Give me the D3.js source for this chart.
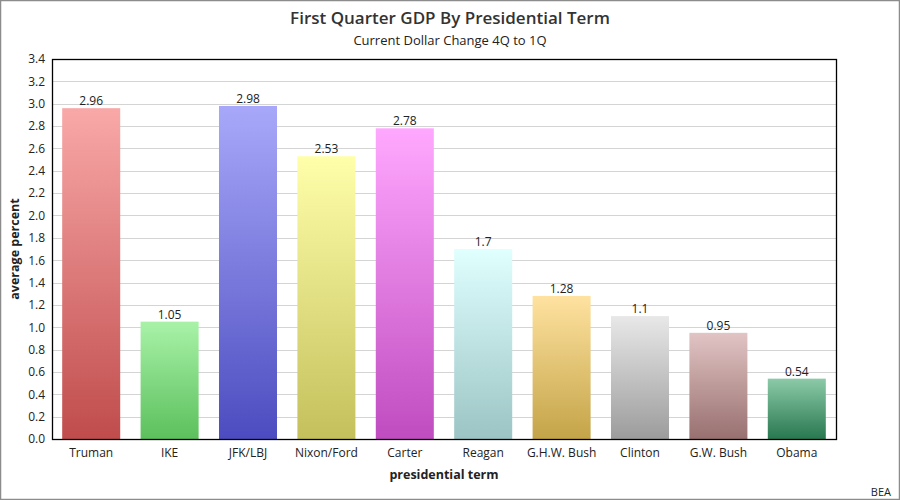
<!DOCTYPE html>
<html>
<head>
<meta charset="utf-8">
<script src="https://cdn.jsdelivr.net/npm/d3@7"></script>
<style>
  body { margin: 0; background: #fff; }
  text { font-family: "Open Sans", "Noto Sans", sans-serif; fill: #222; }
</style>
</head>
<body>
<svg id="chart" width="900" height="500"></svg>
<script>
// data
var terms = ['Truman', 'IKE', 'JFK/LBJ', 'Nixon/Ford', 'Carter', 'Reagan', 'G.H.W. Bush', 'Clinton', 'G.W. Bush', 'Obama'];
var values = [2.96, 1.05, 2.98, 2.53, 2.78, 1.7, 1.28, 1.1, 0.95, 0.54];
var labels = ['2.96', '1.05', '2.98', '2.53', '2.78', '1.7', '1.28', '1.1', '0.95', '0.54'];
var topColors = ['#f9a8a8', '#a8f2a8', '#a8a8fa', '#ffffaa', '#ffa8ff', '#e0ffff', '#ffe2a0', '#e8e8e8', '#e2c4c4', '#8ccaa8'];
var bottomColors = ['#c04c4c', '#5cc05c', '#4c4cc0', '#c4c05c', '#c04cc0', '#9cc4c4', '#c4a448', '#9c9c9c', '#987070', '#287850'];
var yTicks = d3.range(0, 3.41, 0.2);

var width = 900, height = 500;
var margin = { top: 59, right: 64, bottom: 61, left: 52 };

var svg = d3.select('#chart');

// outer border
svg.append('rect')
  .attr('x', 0.5).attr('y', 0.5)
  .attr('width', width - 1).attr('height', height - 1)
  .attr('fill', '#fff').attr('stroke', '#8c8c8c').attr('stroke-width', 1.5);

var x = d3.scaleBand()
  .domain(terms)
  .range([margin.left, width - margin.right])
  .paddingInner(0.26)
  .paddingOuter(0.13);

var y = d3.scaleLinear()
  .domain([0, 3.4])
  .range([height - margin.bottom, margin.top]);

var defs = svg.append('defs');
terms.forEach(function(t, i) {
  var g = defs.append('linearGradient')
    .attr('id', 'grad' + i)
    .attr('x1', 0).attr('y1', 0).attr('x2', 0).attr('y2', 1);
  g.append('stop').attr('offset', '0%').attr('stop-color', topColors[i]);
  g.append('stop').attr('offset', '100%').attr('stop-color', bottomColors[i]);
});

// grid
svg.append('g')
  .selectAll('line')
  .data(yTicks)
  .enter()
  .append('line')
  .attr('x1', margin.left).attr('x2', width - margin.right)
  .attr('y1', d => Math.round(y(d)) + 0.5).attr('y2', d => Math.round(y(d)) + 0.5)
  .attr('stroke', '#d4d4d4');

// y axis
var yAxis = svg.append('g')
  .attr('transform', `translate(${margin.left},0)`)
  .call(d3.axisLeft(y).tickValues(yTicks).tickFormat(d3.format('.1f')).tickSize(0).tickPadding(7));
yAxis.select('.domain').remove();
yAxis.selectAll('text').style('font-size', '12px').style('font-family', '"Open Sans", sans-serif');

// x axis
var xAxis = svg.append('g')
  .attr('transform', `translate(0,${height - margin.bottom})`)
  .call(d3.axisBottom(x).tickSize(0).tickPadding(9));
xAxis.select('.domain').remove();
xAxis.selectAll('text').style('font-size', '12px').style('font-family', '"Open Sans", sans-serif');

// bars
svg.append('g')
  .selectAll('rect')
  .data(terms)
  .enter()
  .append('rect')
  .attr('x', d => x(d))
  .attr('width', x.bandwidth())
  .attr('y', (d, i) => y(values[i]))
  .attr('height', (d, i) => y(0) - y(values[i]))
  .attr('fill', (d, i) => 'url(#grad' + i + ')');

// value labels
svg.append('g')
  .selectAll('text')
  .data(terms)
  .enter()
  .append('text')
  .attr('x', d => x(d) + x.bandwidth() / 2)
  .attr('y', (d, i) => y(values[i]) - 3)
  .attr('text-anchor', 'middle')
  .style('font-size', '12px')
  .text((d, i) => labels[i]);

// plot frame
svg.append('rect')
  .attr('x', margin.left + 0.5).attr('y', margin.top + 0.5)
  .attr('width', width - margin.left - margin.right)
  .attr('height', height - margin.top - margin.bottom)
  .attr('fill', 'none').attr('stroke', '#000').attr('stroke-width', 1.3);

// titles
svg.append('text')
  .attr('x', 450).attr('y', 24)
  .attr('text-anchor', 'middle')
  .style('font-size', '17px').style('font-weight', '600')
  .style('fill', '#333')
  .text('First Quarter GDP By Presidential Term');

svg.append('text')
  .attr('x', 450).attr('y', 45)
  .attr('text-anchor', 'middle')
  .style('font-size', '13px')
  .text('Current Dollar Change 4Q to 1Q');

svg.append('text')
  .attr('x', 444).attr('y', 479)
  .attr('text-anchor', 'middle')
  .style('font-size', '12.5px').style('font-weight', 'bold')
  .text('presidential term');

svg.append('text')
  .attr('transform', 'translate(19,249) rotate(-90)')
  .attr('text-anchor', 'middle')
  .style('font-size', '12.5px').style('font-weight', 'bold')
  .text('average percent');

svg.append('text')
  .attr('x', 891).attr('y', 496)
  .attr('text-anchor', 'end')
  .style('font-size', '11px')
  .text('BEA');
</script>
</body>
</html>
